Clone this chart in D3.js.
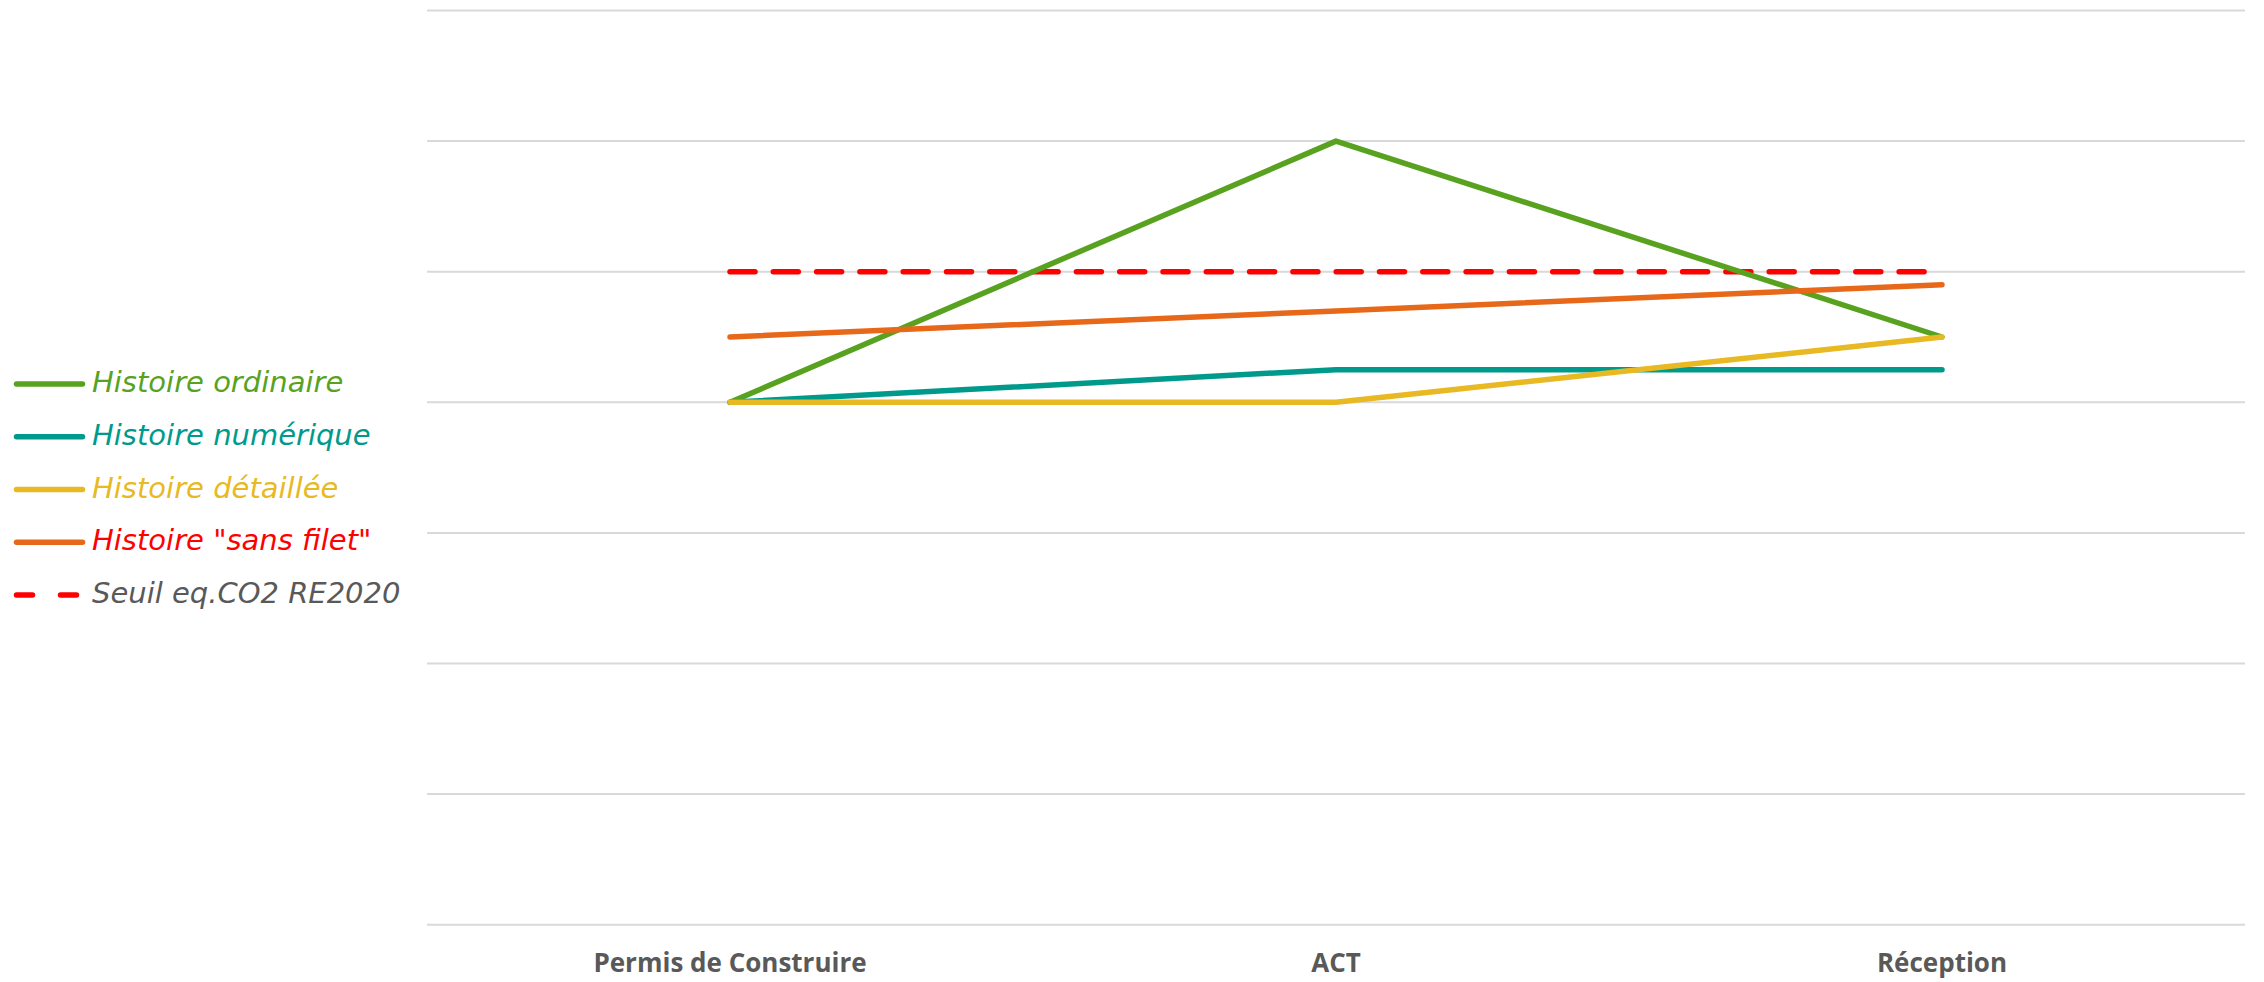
<!DOCTYPE html>
<html>
<head>
<meta charset="utf-8">
<script src="https://cdn.jsdelivr.net/npm/d3@7"></script>
<style>
  html, body { margin: 0; padding: 0; background: #ffffff; }
  svg { display: block; }
</style>
</head>
<body>
<svg id="chart" width="2264" height="982"></svg>
<script>
// Project stages along the x axis
const categories = ["Permis de Construire", "ACT", "Réception"];

// Carbon indicator per story, one value per stage
const histoireOrdinaire = [4, 6, 4.5];
const histoireNumerique = [4, 4.25, 4.25];
const histoireDetaillee = [4, 4, 4.5];
const histoireSansFilet = [4.5, 4.7, 4.9];
const seuilRE2020 = [5, 5, 5];

// Horizontal gridline levels
const gridLevels = [0, 1, 2, 3, 4, 5, 6, 7];

const series = [
  { name: "Histoire ordinaire", values: histoireOrdinaire, color: "#58A21F", text: "#58A21F", dashed: false },
  { name: "Histoire numérique", values: histoireNumerique, color: "#009A8C", text: "#009A8C", dashed: false },
  { name: "Histoire détaillée", values: histoireDetaillee, color: "#E8B923", text: "#E8B923", dashed: false },
  { name: "Histoire \"sans filet\"", values: histoireSansFilet, color: "#E8681A", text: "#FF0000", dashed: false },
  { name: "Seuil eq.CO2 RE2020", values: seuilRE2020, color: "#FF0000", text: "#595959", dashed: true }
];

const svg = d3.select("#chart");
const plot = { left: 427, right: 2245, top: 10.5, bottom: 924.7 };

const x = d3.scaleBand().domain(categories).range([plot.left, plot.right]);
const y = d3.scaleLinear().domain([0, 7]).range([plot.bottom, plot.top]);
const xc = c => x(c) + x.bandwidth() / 2;

// Gridlines
svg.append("g")
  .selectAll("line")
  .data(gridLevels)
  .join("line")
  .attr("x1", plot.left)
  .attr("x2", plot.right)
  .attr("y1", d => y(d))
  .attr("y2", d => y(d))
  .attr("stroke", "#D9D9D9")
  .attr("stroke-width", 2);

// Category labels
const xAxis = d3.axisBottom(x).tickSize(0).tickPadding(0);
const gx = svg.append("g")
  .attr("transform", `translate(0,${plot.bottom})`)
  .call(xAxis);
gx.select(".domain").remove();
gx.selectAll("text")
  .attr("dy", null)
  .attr("y", 40)
  .attr("dominant-baseline", "middle")
  .attr("font-family", "'Open Sans', sans-serif")
  .attr("font-weight", "bold")
  .attr("font-size", 26)
  .attr("fill", "#595959");

// Lines: threshold first, then each story on top
const line = d3.line()
  .x((d, i) => xc(categories[i]))
  .y(d => y(d));

const drawOrder = [series[4], series[0], series[1], series[2], series[3]];
svg.append("g")
  .selectAll("path")
  .data(drawOrder)
  .join("path")
  .attr("d", d => line(d.values))
  .attr("fill", "none")
  .attr("stroke", d => d.color)
  .attr("stroke-width", 5.5)
  .attr("stroke-linecap", "round")
  .attr("stroke-linejoin", "round")
  .attr("stroke-dasharray", d => d.dashed ? "25 18.3" : null);

// Legend
const legend = svg.append("g");
const rowY = d3.scalePoint().domain(series.map(s => s.name)).range([384, 595]);
const rows = legend.selectAll("g")
  .data(series)
  .join("g")
  .attr("transform", d => `translate(0,${rowY(d.name)})`);

rows.append("line")
  .attr("x1", 16.5)
  .attr("x2", 82.5)
  .attr("y1", 0)
  .attr("y2", 0)
  .attr("stroke", d => d.color)
  .attr("stroke-width", 5.5)
  .attr("stroke-linecap", "round")
  .attr("stroke-dasharray", d => d.dashed ? "16 28" : null);

rows.append("text")
  .attr("x", 92)
  .attr("y", 0)
  .attr("dominant-baseline", "middle")
  .attr("font-family", "'DejaVu Sans', sans-serif")
  .attr("font-style", "italic")
  .attr("font-size", 29)
  .attr("fill", d => d.text)
  .text(d => d.name);
</script>
</body>
</html>
